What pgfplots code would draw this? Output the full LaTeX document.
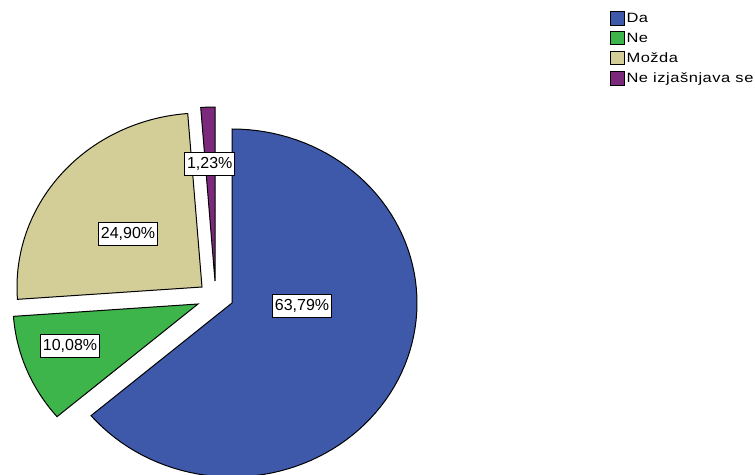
\documentclass[border=0pt]{standalone}
\usepackage{pgfplots}
\pgfplotsset{compat=1.18}
\usepackage{fontspec}
\setmainfont{Liberation Sans}
\newfontfamily\legfont[FakeStretch=1.22, LetterSpace=4]{Liberation Sans}
\definecolor{cDa}{RGB}{62,89,170}
\definecolor{cNe}{RGB}{61,181,74}
\definecolor{cMo}{RGB}{211,206,151}
\definecolor{cNi}{RGB}{123,41,123}
% shares in percent
\def\vDa{63.79}
\def\vNe{10.08}
\def\vMo{24.90}
\def\vNi{1.23}
\pgfmathsetmacro{\aA}{0}
\pgfmathsetmacro{\aB}{\aA+3.6*\vDa}
\pgfmathsetmacro{\aC}{\aB+3.6*\vNe}
\pgfmathsetmacro{\aD}{\aC+3.6*\vMo}
\pgfmathsetmacro{\aE}{\aD+3.6*\vNi}
\newcommand{\slice}[5]{%
  \addplot[fill=#5, draw=black, line width=1pt, domain=#1:#2, samples=90, variable=\t]
    ({#3+185*sin(\t)},{#4+174*cos(\t)}) -- (axis cs:#3,#4) -- cycle;
}
\begin{document}
\begin{tikzpicture}
\begin{axis}[
  at={(0,0)}, anchor=south west,
  width=755pt, height=474pt, scale only axis,
  xmin=0, xmax=755, ymin=0, ymax=474,
  hide axis,
  legend cell align=left,
  legend image code/.code={\draw[#1,draw=black,line width=0.9pt] (0pt,-6.7pt) rectangle (13.6pt,6.7pt);},
  legend style={at={(axis cs:610,463)}, anchor=north west, draw=none, fill=none,
    inner sep=0pt, outer sep=0pt, row sep=5pt,
    nodes={inner sep=2pt},
    font=\fontsize{13.5}{15}\selectfont\legfont},
  every node/.style={font=\fontsize{16}{19}\selectfont},
]
\slice{\aA}{\aB}{232}{171}{cDa}
\addlegendentry{Da}
\slice{\aB}{\aC}{198}{170}{cNe}
\addlegendentry{Ne}
\slice{\aC}{\aD}{202}{187}{cMo}
\addlegendentry{Možda}
\slice{\aD}{\aE}{215}{193}{cNi}
\addlegendentry{Ne izjašnjava se}
\tikzset{lab/.style={draw=black, fill=white, line width=1pt, inner xsep=2.5pt, inner ysep=4pt, text height=12pt, text depth=3pt, font=\fontsize{16}{19}\selectfont}}
\node[lab] at (axis cs:302,167.5) {63,79\%};
\node[lab] at (axis cs:128,240) {24,90\%};
\node[lab] at (axis cs:70,128) {10,08\%};
\node[lab] at (axis cs:209.7,309.5) {1,23\%};
\end{axis}
\pgfresetboundingbox
\path[use as bounding box] (0,0) rectangle (755pt,474pt);
\end{tikzpicture}
\end{document}
